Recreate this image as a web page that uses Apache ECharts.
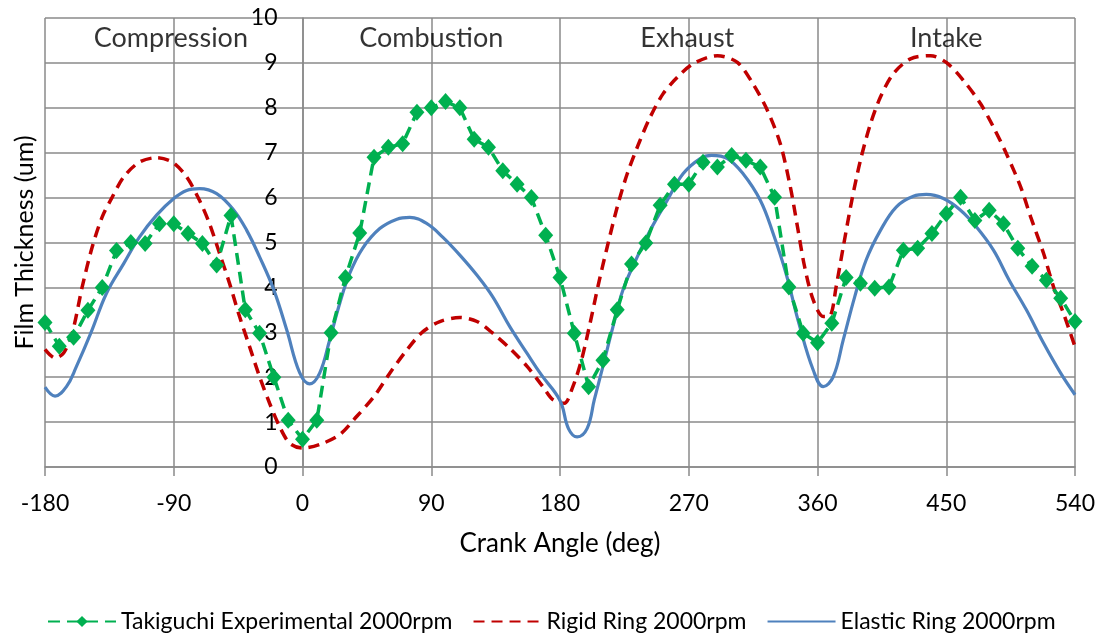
<!DOCTYPE html>
<html>
<head>
<meta charset="utf-8">
<script src="https://cdn.jsdelivr.net/npm/echarts@6/dist/echarts.min.js"></script>
<style>
  html, body { margin: 0; padding: 0; background: #fff; }
  #chart { width: 1102px; height: 634px; }
</style>
</head>
<body>
<div id="chart"></div>
<script>
// phase labels along the top band
var phaseNames = ["Compression", "Combustion", "Exhaust", "Intake"];
var phaseAngles = [-92, 90, 269, 450];
var phaseLevel = 9.55;

// Takiguchi experimental (markers every 10 deg)
var expAngles = [
  -180, -170, -160, -150, -140, -130, -120, -110, -100, -90, -80, -70, -60, -50, -40, -30, -20, -10,
  0, 10, 20, 30, 40, 50, 60, 70, 80, 90, 100, 110, 120, 130, 140, 150, 160, 170,
  180, 190, 200, 210, 220, 230, 240, 250, 260, 270, 280, 290, 300, 310, 320, 330, 340, 350,
  360, 370, 380, 390, 400, 410, 420, 430, 440, 450, 460, 470, 480, 490, 500, 510, 520, 530, 540
];
var expValues = [
  3.22, 2.69, 2.89, 3.49, 4.0, 4.82, 5.0, 4.98, 5.42, 5.42, 5.2, 4.98, 4.5, 5.6, 3.5, 2.98, 2.0, 1.04,
  0.62, 1.04, 2.99, 4.22, 5.21, 6.9, 7.12, 7.2, 7.9, 8.0, 8.14, 8.0, 7.3, 7.12, 6.6, 6.3, 6.0, 5.16,
  4.22, 2.98, 1.79, 2.38, 3.5, 4.52, 4.99, 5.83, 6.3, 6.3, 6.79, 6.68, 6.94, 6.83, 6.68, 6.01, 4.01, 2.98,
  2.77, 3.2, 4.22, 4.09, 3.98, 4.01, 4.83, 4.87, 5.2, 5.64, 6.01, 5.49, 5.72, 5.42, 4.87, 4.47, 4.16, 3.76, 3.24
];

// rigid ring model
var rigidAngles = [
  -180, -173, -167, -161, -154, -147, -140, -133, -125, -114, -102, -91, -81, -72, -65, -58, -51, -44, -37, -30, -23, -16, -9,
  0, 12, 26, 38, 50, 61, 73, 84, 96, 110, 122, 133, 145, 157, 168, 175,
  183, 189, 195, 201, 207, 213, 220, 227, 235, 243, 252, 262, 273, 290, 304, 315, 325, 334, 341, 346, 351, 357,
  364, 369, 373, 378, 384, 390, 397, 404, 413, 425, 439, 450, 462, 474, 483, 492, 502, 509, 518, 525, 532, 540
];
var rigidValues = [
  2.62, 2.43, 2.54, 2.98, 4.01, 4.9, 5.57, 6.01, 6.46, 6.79, 6.89, 6.79, 6.46, 5.94, 5.42, 4.76, 4.09, 3.35, 2.68, 2.01, 1.42, 0.9, 0.53,
  0.42, 0.5, 0.72, 1.13, 1.57, 2.09, 2.61, 3.01, 3.24, 3.33, 3.24, 2.98, 2.64, 2.24, 1.79, 1.5,
  1.42, 1.79, 2.38, 3.2, 4.09, 4.9, 5.79, 6.53, 7.2, 7.79, 8.31, 8.68, 8.98, 9.16, 9.01, 8.53, 7.94, 7.2, 6.24, 5.35, 4.46, 3.72,
  3.35, 3.38, 4.01, 4.9, 5.94, 6.83, 7.64, 8.24, 8.76, 9.09, 9.16, 9.01, 8.61, 8.09, 7.57, 6.98, 6.24, 5.57, 4.76, 4.01, 3.42, 2.68
];

// elastic ring model
var elasticAngles = [
  -180, -173, -165, -158, -148, -137, -125, -114, -102, -90, -81, -72, -60, -48, -39, -30, -20, -11, -2,
  5, 12, 19, 26, 33, 42, 54, 66, 75, 87, 98, 110, 122, 133, 145, 157, 167,
  180, 186, 192, 199, 204, 210, 217, 224, 234, 243, 255, 266, 278, 286, 297, 308, 320, 329, 338, 347, 357,
  364, 371, 378, 386, 394, 404, 415, 427, 436, 448, 460, 471, 483, 494, 506, 518, 530, 540
];
var elasticValues = [
  1.78, 1.58, 1.79, 2.24, 2.98, 3.87, 4.53, 5.12, 5.61, 5.98, 6.16, 6.2, 6.09, 5.72, 5.27, 4.68, 3.94, 3.05, 2.1,
  1.85, 2.09, 2.83, 3.64, 4.31, 4.87, 5.31, 5.52, 5.56, 5.42, 5.12, 4.72, 4.27, 3.79, 3.12, 2.53, 2.05,
  1.48, 0.85, 0.67, 0.86, 1.5, 2.24, 3.12, 3.94, 4.68, 5.27, 5.94, 6.53, 6.87, 6.94, 6.87, 6.53, 5.94, 5.2, 4.31, 3.2, 2.16,
  1.79, 2.01, 2.83, 3.79, 4.61, 5.27, 5.79, 6.03, 6.07, 5.98, 5.72, 5.35, 4.83, 4.16, 3.5, 2.76, 2.09, 1.61
];

function pairs(xs, ys) {
  return xs.map(function (x, i) {
    return [x, ys[i]];
  });
}

var font = "Lato";
var gridColor = "#8a8a8a";
var gridLeft = 45;
var gridRight = 27;
var plotWidth = 1102 - gridLeft - gridRight;

var chart = echarts.init(document.getElementById("chart"));
var option = {
  animation: false,
  textStyle: { fontFamily: font, color: "#000" },
  grid: { left: gridLeft, right: gridRight, top: 18, bottom: 167, outerBoundsMode: "none" },
  legend: {
    left: 42,
    top: 605,
    itemWidth: 68,
    itemHeight: 14,
    itemGap: 20,
    textStyle: { fontFamily: font, fontSize: 23, color: "#000" },
    data: [
      { name: "Takiguchi Experimental 2000rpm" },
      { name: "Rigid Ring 2000rpm", itemStyle: { opacity: 0 } },
      { name: "Elastic Ring 2000rpm", itemStyle: { opacity: 0 } },
    ],
  },
  xAxis: {
    type: "value",
    min: -180,
    max: 540,
    interval: 90,
    name: "Crank Angle (deg)",
    nameLocation: "middle",
    nameGap: 64,
    nameTextStyle: { fontFamily: font, fontSize: 26, color: "#000" },
    axisLine: { show: true, lineStyle: { color: gridColor, width: 1.5 } },
    axisTick: { show: true, length: 9, lineStyle: { color: gridColor, width: 1.5 } },
    axisLabel: { margin: 25, fontFamily: font, fontSize: 23, color: "#000" },
    splitLine: { show: true, lineStyle: { color: gridColor, width: 1.5 } },
  },
  yAxis: [
    {
      // value labels sit on the 0 deg line
      type: "value",
      min: 0,
      max: 10,
      interval: 1,
      position: "left",
      offset: -plotWidth * 180 / 720,
      axisLine: { show: true, onZero: false, lineStyle: { color: gridColor, width: 1.5 } },
      axisTick: { show: false },
      axisLabel: { margin: 25, fontFamily: font, fontSize: 23, color: "#000" },
      splitLine: { show: true, lineStyle: { color: gridColor, width: 1.5 } },
    },
    {
      type: "value",
      min: 0,
      max: 10,
      position: "left",
      name: "Film Thickness (um)",
      nameLocation: "middle",
      nameGap: 8,
      nameTextStyle: { fontFamily: font, fontSize: 25, color: "#000" },
      axisLine: { show: false, onZero: false },
      axisTick: { show: false },
      axisLabel: { show: false },
      splitLine: { show: false },
    },
  ],
  series: [
    {
      name: "Takiguchi Experimental 2000rpm",
      type: "line",
      data: pairs(expAngles, expValues),
      symbol: "diamond",
      symbolSize: [15, 17],
      itemStyle: { color: "#00b050" },
      lineStyle: { color: "#00b050", width: 3.5, type: [12, 7] },
      z: 4,
    },
    {
      name: "Rigid Ring 2000rpm",
      type: "line",
      data: pairs(rigidAngles, rigidValues),
      smooth: 0.3,
      showSymbol: false,
      symbol: "none",
      itemStyle: { color: "#c00000" },
      lineStyle: { color: "#c00000", width: 3.5, type: [11, 7] },
      z: 3,
    },
    {
      name: "Elastic Ring 2000rpm",
      type: "line",
      data: pairs(elasticAngles, elasticValues),
      smooth: 0.4,
      showSymbol: false,
      symbol: "none",
      itemStyle: { color: "#4f81bd" },
      lineStyle: { color: "#4f81bd", width: 3.2 },
      z: 3,
    },
    {
      type: "scatter",
      data: phaseAngles.map(function (a, i) {
        return [a, phaseLevel, phaseNames[i]];
      }),
      symbolSize: 0,
      silent: true,
      label: {
        show: true,
        position: "inside",
        fontFamily: font,
        fontSize: 27,
        color: "#000",
        formatter: function (p) {
          return p.data[2];
        },
      },
      z: 5,
    },
  ],
};
chart.setOption(option);
</script>
</body>
</html>
